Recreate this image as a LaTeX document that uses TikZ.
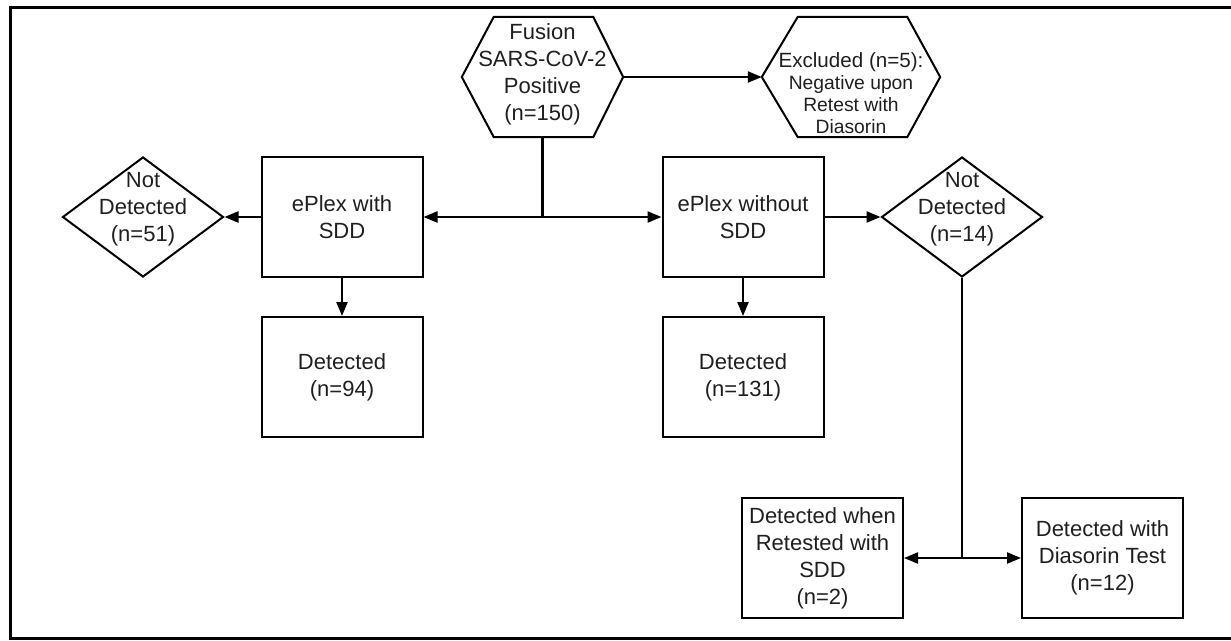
\documentclass[tikz,border=0pt]{standalone}
\usepackage{fontspec}
\setmainfont{Liberation Sans}
\usetikzlibrary{arrows.meta,shapes.geometric,positioning}

\begin{document}
\begin{tikzpicture}[x=1pt,y=-1pt,>={Triangle[length=14pt,width=11pt]},
  every node/.style={font=\fontsize{22}{27}\selectfont,text=black!88},
  procbox/.style={draw,line width=2pt,minimum width=161pt,minimum height=120pt,inner sep=0pt,align=center},
  hexnode/.style={minimum width=#1,minimum height=120pt,inner sep=0pt},
  decision/.style={draw,diamond,line width=2pt,minimum width=161pt,minimum height=120pt,inner sep=0pt},
  dtext/.style={align=center,yshift=8pt},
  conn/.style={line width=2.2pt}]
  \useasboundingbox (0,0) rectangle (1231,640);
  \draw[line width=3pt] (1240,7.5) -- (10,7.5) -- (10,638.5) -- (1240,638.5);

  \node[hexnode=161pt,label={[align=center,yshift=3pt]center:{Fusion\\SARS-CoV-2\\Positive\\(n=150)}}] (fusion) at (542.5,77) {};
  \node[hexnode=178pt,label={[align=center,yshift=-16pt,font=\fontsize{19.3}{22}\selectfont]center:{{\fontsize{20.6}{22}\selectfont Excluded (n=5):}\\Negative upon\\Retest with\\Diasorin}}] (excl) at (851,77) {};
  \draw[line width=2pt] (fusion.west) -- ([xshift=32pt]fusion.north west) -- ([xshift=-30pt]fusion.north east) -- (fusion.east) -- ([xshift=-30pt]fusion.south east) -- ([xshift=32pt]fusion.south west) -- cycle;
  \draw[line width=2pt] (excl.west) -- ([xshift=36pt]excl.north west) -- ([xshift=-33pt]excl.north east) -- (excl.east) -- ([xshift=-33pt]excl.south east) -- ([xshift=36pt]excl.south west) -- cycle;

  \node[procbox] (withsdd) at (342,217) {ePlex with\\SDD};
  \node[procbox] (withoutsdd) at (743,217) {ePlex without\\SDD};
  \node[decision,label={[dtext]center:{Not\\Detected\\(n=51)}}] (nd1) at (143,217) {};
  \node[decision,label={[dtext]center:{Not\\Detected\\(n=14)}}] (nd2) at (962,217) {};
  \node[procbox] (det1) at (342,377) {Detected\\(n=94)};
  \node[procbox] (det2) at (743,377) {Detected\\(n=131)};
  \node[procbox] (retest) at (822.5,558) {Detected when\\Retested with\\SDD\\(n=2)};
  \node[procbox] (diaso) at (1102.5,558) {Detected with\\Diasorin Test\\(n=12)};

  \draw[conn,->] (fusion.east) -- (excl.west);
  \coordinate (split1) at (fusion.south |- withsdd.east);
  \draw[conn] (fusion.south) -- (split1);
  \draw[conn,->] (split1) -- (withsdd.east);
  \draw[conn,->] (split1) -- (withoutsdd.west);
  \draw[conn,->] (withsdd.west) -- (nd1.east);
  \draw[conn,->] (withoutsdd.east) -- (nd2.west);
  \draw[conn,->] (withsdd.south) -- (det1.north);
  \draw[conn,->] (withoutsdd.south) -- (det2.north);
  \coordinate (split2) at (nd2.south |- retest.east);
  \draw[conn] (nd2.south) -- (split2);
  \draw[conn,->] (split2) -- (retest.east);
  \draw[conn,->] (split2) -- (diaso.west);
\end{tikzpicture}
\end{document}
